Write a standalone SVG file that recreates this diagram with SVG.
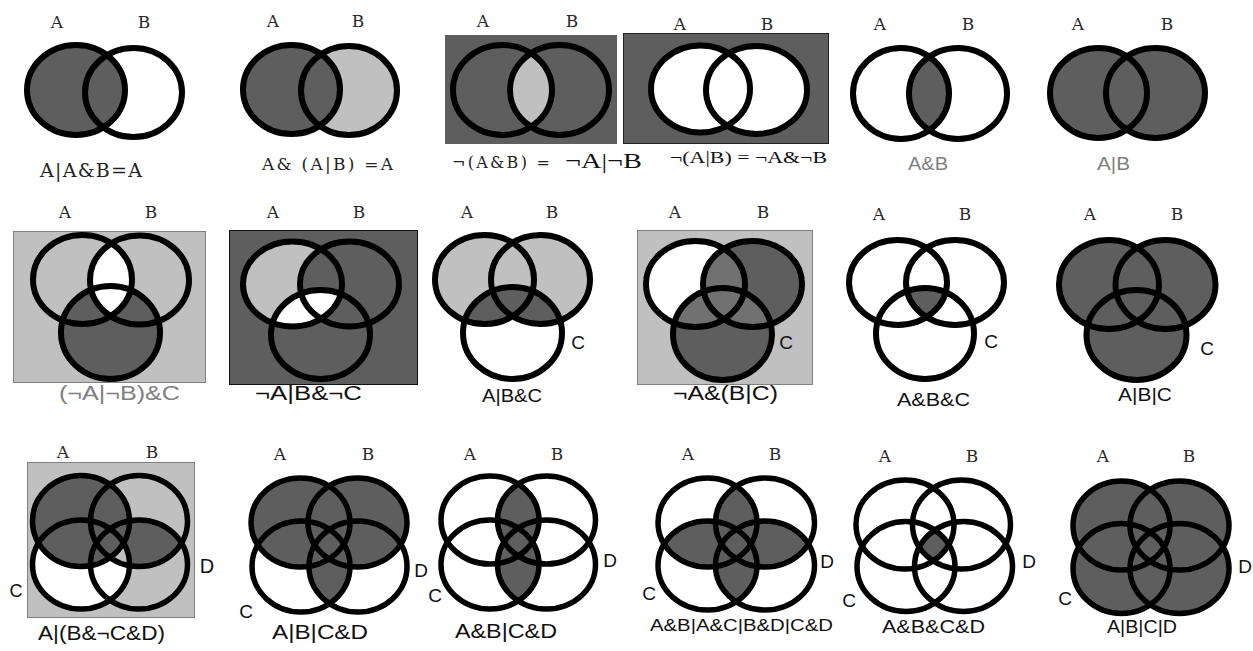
<svg xmlns="http://www.w3.org/2000/svg" width="1253" height="651" viewBox="0 0 1253 651">
<style>
.o{fill:none;stroke:#000;stroke-width:6}
.o3{fill:none;stroke:#000;stroke-width:5.5}
.d{fill:#5e5e5e}
.l{fill:#c0c0c0}
.w{fill:#fff}
.m{fill:#717171}
.bg{fill:#fff}
.lab{font-family:"DejaVu Serif","Liberation Serif",serif;font-size:17px;fill:#2a2a2a;text-anchor:middle}
.cd{font-family:"Liberation Sans",Arial,sans-serif;font-size:19px;fill:#111;text-anchor:middle}
.mono{font-family:"DejaVu Serif","Liberation Serif",serif;fill:#222}
.serif{font-family:"Liberation Serif",serif;fill:#111}
.sans{font-family:"Liberation Sans",Arial,sans-serif;fill:#111}
.gray{fill:#808080}
</style>
<defs>
<clipPath id="c3A"><ellipse cx="502.5" cy="90" rx="49.5" ry="45"/></clipPath>
<clipPath id="c5A"><ellipse cx="901" cy="93.5" rx="48" ry="45.5"/></clipPath>
<clipPath id="c7A"><ellipse cx="82.5" cy="279.5" rx="49.5" ry="44.5"/></clipPath>
<clipPath id="c8A"><ellipse cx="292.5" cy="284" rx="49.5" ry="42.5"/></clipPath>
<clipPath id="c9A"><ellipse cx="484.5" cy="279.5" rx="49.5" ry="44.5"/></clipPath>
<clipPath id="c9B"><ellipse cx="540.5" cy="279.5" rx="49.5" ry="44.5"/></clipPath>
<clipPath id="c10A"><ellipse cx="695.5" cy="284" rx="49.5" ry="43"/></clipPath>
<clipPath id="c10B"><ellipse cx="752.5" cy="284" rx="49.5" ry="43"/></clipPath>
<clipPath id="c11A"><ellipse cx="898" cy="282.5" rx="49" ry="42.5"/></clipPath>
<clipPath id="c11B"><ellipse cx="955" cy="282.5" rx="49" ry="42.5"/></clipPath>
<clipPath id="c13B"><ellipse cx="139" cy="521" rx="48.5" ry="45.5"/></clipPath>
<clipPath id="c14C"><ellipse cx="301" cy="566.5" rx="49" ry="45.5"/></clipPath>
<clipPath id="c15A"><ellipse cx="490" cy="520" rx="49" ry="44"/></clipPath>
<clipPath id="c15C"><ellipse cx="490" cy="564.5" rx="49" ry="44.5"/></clipPath>
<clipPath id="c16A"><ellipse cx="707.5" cy="522.5" rx="49.5" ry="44.5"/></clipPath>
<clipPath id="c16B"><ellipse cx="765" cy="522.5" rx="49.5" ry="44.5"/></clipPath>
<clipPath id="c16C"><ellipse cx="707.5" cy="565.5" rx="49.5" ry="44.5"/></clipPath>
<clipPath id="c17A"><ellipse cx="905" cy="524.5" rx="49" ry="44.5"/></clipPath>
<clipPath id="c17B"><ellipse cx="961.5" cy="524.5" rx="49" ry="44.5"/></clipPath>
<clipPath id="c17C"><ellipse cx="906" cy="566.5" rx="49" ry="45"/></clipPath>
</defs>
<rect class="bg" x="0" y="0" width="1253" height="651"/>

<!-- Row 1 -->
<g id="p1">
<ellipse class="d" cx="76" cy="90" rx="49" ry="45"/>
<ellipse class="o" cx="76" cy="90" rx="49" ry="45"/>
<ellipse class="o" cx="133.5" cy="92.5" rx="48.5" ry="44.5"/>
<text class="lab" x="57" y="28">A</text><text class="lab" x="144" y="28">B</text>
<text class="mono" x="40" y="177" font-size="19" textLength="102" lengthAdjust="spacing">A|A&amp;B=A</text>
</g>
<g id="p2">
<ellipse class="l" cx="349" cy="90.5" rx="48" ry="44.5"/>
<ellipse class="d" cx="291.5" cy="89.5" rx="48.5" ry="44.5"/>
<ellipse class="o" cx="291.5" cy="89.5" rx="48.5" ry="44.5"/>
<ellipse class="o" cx="349" cy="90.5" rx="48" ry="44.5"/>
<text class="lab" x="273" y="27">A</text><text class="lab" x="358" y="27">B</text>
<text class="mono" x="262" y="170" font-size="17" textLength="131" lengthAdjust="spacing">A&amp; (A|B) =A</text>
</g>
<g id="p3">
<rect class="d" x="445" y="35" width="172" height="109"/>
<ellipse class="l" cx="559.5" cy="90" rx="49.5" ry="45" clip-path="url(#c3A)"/>
<ellipse class="o" cx="502.5" cy="90" rx="49.5" ry="45"/>
<ellipse class="o" cx="559.5" cy="90" rx="49.5" ry="45"/>
<text class="lab" x="483" y="27">A</text><text class="lab" x="572" y="27">B</text>
<text y="168"><tspan class="mono" x="452" font-size="16" textLength="98" lengthAdjust="spacing">¬(A&amp;B) =</tspan><tspan class="serif" x="565" font-size="21" textLength="77" lengthAdjust="spacingAndGlyphs">¬A|¬B</tspan></text>
</g>
<g id="p4">
<rect class="d" x="623.5" y="33.5" width="205" height="110" stroke="#222" stroke-width="1"/>
<ellipse class="w" cx="700.5" cy="89" rx="49.5" ry="43.5"/>
<ellipse class="w" cx="756.5" cy="90" rx="50.5" ry="44"/>
<ellipse class="o" cx="700.5" cy="89" rx="49.5" ry="43.5"/>
<ellipse class="o" cx="756.5" cy="90" rx="50.5" ry="44"/>
<text class="lab" x="680" y="30">A</text><text class="lab" x="767" y="30">B</text>
<text class="serif" x="670" y="163" font-size="17" textLength="157" lengthAdjust="spacingAndGlyphs">¬(A|B) = ¬A&amp;¬B</text>
</g>
<g id="p5">
<ellipse class="d" cx="958" cy="93.5" rx="49" ry="45.5" clip-path="url(#c5A)"/>
<ellipse class="o" cx="901" cy="93.5" rx="48" ry="45.5"/>
<ellipse class="o" cx="958" cy="93.5" rx="49" ry="45.5"/>
<text class="lab" x="880" y="30">A</text><text class="lab" x="968" y="30">B</text>
<text class="sans gray" x="908" y="170" font-size="18" textLength="40" lengthAdjust="spacingAndGlyphs">A&amp;B</text>
</g>
<g id="p6">
<ellipse class="d" cx="1098.5" cy="93" rx="48.5" ry="45"/>
<ellipse class="d" cx="1155.5" cy="93" rx="49.5" ry="45"/>
<ellipse class="o" cx="1098.5" cy="93" rx="48.5" ry="45"/>
<ellipse class="o" cx="1155.5" cy="93" rx="49.5" ry="45"/>
<text class="lab" x="1078" y="30">A</text><text class="lab" x="1167" y="30">B</text>
<text class="sans gray" x="1097" y="170" font-size="18" textLength="33" lengthAdjust="spacingAndGlyphs">A|B</text>
</g>

<!-- Row 2 -->
<g id="p7">
<rect class="l" x="13.5" y="231.5" width="192" height="151" stroke="#808080" stroke-width="1"/>
<ellipse class="d" cx="110.5" cy="332.5" rx="49.5" ry="46.5"/>
<ellipse class="w" cx="139.5" cy="280" rx="49.5" ry="44.5" clip-path="url(#c7A)"/>
<ellipse class="o" cx="82.5" cy="279.5" rx="49.5" ry="44.5"/>
<ellipse class="o" cx="139.5" cy="280" rx="49.5" ry="44.5"/>
<ellipse class="o" cx="110.5" cy="332.5" rx="49.5" ry="46.5"/>
<text class="lab" x="65" y="218">A</text><text class="lab" x="151" y="218">B</text>
<text class="sans gray" x="59" y="400" font-size="20" textLength="121" lengthAdjust="spacingAndGlyphs">(¬A|¬B)&amp;C</text>
</g>
<g id="p8">
<rect class="d" x="229.5" y="230.5" width="188" height="154" stroke="#111" stroke-width="1"/>
<ellipse class="l" cx="292.5" cy="284" rx="49.5" ry="42.5"/>
<ellipse class="d" cx="349.5" cy="284" rx="49.5" ry="42.5" clip-path="url(#c8A)"/>
<ellipse class="w" cx="320.5" cy="334.5" rx="49.5" ry="44.5" clip-path="url(#c8A)"/>
<ellipse class="o" cx="292.5" cy="284" rx="49.5" ry="42.5"/>
<ellipse class="o" cx="349.5" cy="284" rx="49.5" ry="42.5"/>
<ellipse class="o" cx="320.5" cy="334.5" rx="49.5" ry="44.5"/>
<text class="lab" x="273" y="218">A</text><text class="lab" x="359" y="218">B</text>
<text class="sans" x="255" y="400" font-size="20" textLength="107" lengthAdjust="spacingAndGlyphs">¬A|B&amp;¬C</text>
</g>
<g id="p9">
<ellipse class="l" cx="484.5" cy="279.5" rx="49.5" ry="44.5"/>
<ellipse class="l" cx="540.5" cy="279.5" rx="49.5" ry="44.5"/>
<ellipse class="d" cx="512.5" cy="333" rx="49.5" ry="46" clip-path="url(#c9A)"/>
<ellipse class="d" cx="512.5" cy="333" rx="49.5" ry="46" clip-path="url(#c9B)"/>
<ellipse class="o" cx="484.5" cy="279.5" rx="49.5" ry="44.5"/>
<ellipse class="o" cx="540.5" cy="279.5" rx="49.5" ry="44.5"/>
<ellipse class="o" cx="512.5" cy="333" rx="49.5" ry="46"/>
<text class="lab" x="467" y="218">A</text><text class="lab" x="552" y="218">B</text>
<text class="cd" x="578" y="349">C</text>
<text class="sans" x="482" y="402" font-size="19" textLength="60" lengthAdjust="spacingAndGlyphs">A|B&amp;C</text>
</g>
<g id="p10">
<rect class="l" x="637.5" y="230.5" width="175" height="154" stroke="#808080" stroke-width="1"/>
<ellipse class="w" cx="695.5" cy="284" rx="49.5" ry="43"/>
<ellipse class="d" cx="752.5" cy="284" rx="49.5" ry="43"/>
<ellipse class="d" cx="722.5" cy="334" rx="49.5" ry="46"/>
<ellipse class="m" cx="752.5" cy="284" rx="49.5" ry="43" clip-path="url(#c10A)"/>
<ellipse class="m" cx="722.5" cy="334" rx="49.5" ry="46" clip-path="url(#c10A)"/>
<ellipse class="m" cx="722.5" cy="334" rx="49.5" ry="46" clip-path="url(#c10B)"/>
<ellipse class="o" cx="695.5" cy="284" rx="49.5" ry="43"/>
<ellipse class="o" cx="752.5" cy="284" rx="49.5" ry="43"/>
<ellipse class="o" cx="722.5" cy="334" rx="49.5" ry="46"/>
<text class="lab" x="675" y="218">A</text><text class="lab" x="763" y="218">B</text>
<text class="cd" x="786" y="349">C</text>
<text class="sans" x="673" y="400" font-size="20" textLength="105" lengthAdjust="spacingAndGlyphs">¬A&amp;(B|C)</text>
</g>
<g id="p11">
<g clip-path="url(#c11A)"><ellipse class="d" cx="925" cy="333.5" rx="49" ry="45.5" clip-path="url(#c11B)"/></g>
<ellipse class="o" cx="898" cy="282.5" rx="49" ry="42.5"/>
<ellipse class="o" cx="955" cy="282.5" rx="49" ry="42.5"/>
<ellipse class="o" cx="925" cy="333.5" rx="49" ry="45.5"/>
<text class="lab" x="879" y="220">A</text><text class="lab" x="965" y="220">B</text>
<text class="cd" x="991" y="348">C</text>
<text class="sans" x="897" y="406" font-size="19" textLength="73" lengthAdjust="spacingAndGlyphs">A&amp;B&amp;C</text>
</g>
<g id="p12">
<ellipse class="d" cx="1109" cy="284.5" rx="50" ry="44.5"/>
<ellipse class="d" cx="1165.5" cy="284.5" rx="50" ry="44.5"/>
<ellipse class="d" cx="1136.5" cy="335" rx="50" ry="45"/>
<ellipse class="o" cx="1109" cy="284.5" rx="50" ry="44.5"/>
<ellipse class="o" cx="1165.5" cy="284.5" rx="50" ry="44.5"/>
<ellipse class="o" cx="1136.5" cy="335" rx="50" ry="45"/>
<text class="lab" x="1090" y="220">A</text><text class="lab" x="1177" y="220">B</text>
<text class="cd" x="1207" y="355">C</text>
<text class="sans" x="1118" y="401" font-size="19" textLength="54" lengthAdjust="spacingAndGlyphs">A|B|C</text>
</g>

<!-- Row 3 -->
<g id="p13">
<rect class="l" x="27.5" y="462.5" width="167" height="155" stroke="#808080" stroke-width="1"/>
<ellipse class="d" cx="139" cy="564.5" rx="48.5" ry="44.5" clip-path="url(#c13B)"/>
<ellipse class="w" cx="81" cy="564.5" rx="48.5" ry="44.5"/>
<ellipse class="l" cx="81" cy="564.5" rx="48.5" ry="44.5" clip-path="url(#c13B)"/>
<ellipse class="d" cx="81" cy="521" rx="48.5" ry="45.5"/>
<ellipse class="o3" cx="81" cy="521" rx="48.5" ry="45.5"/>
<ellipse class="o3" cx="139" cy="521" rx="48.5" ry="45.5"/>
<ellipse class="o3" cx="81" cy="564.5" rx="48.5" ry="44.5"/>
<ellipse class="o3" cx="139" cy="564.5" rx="48.5" ry="44.5"/>
<text class="lab" x="63" y="458">A</text><text class="lab" x="152" y="458">B</text>
<text class="sans" x="16" y="597" font-size="18" text-anchor="middle">C</text>
<text class="sans" x="207" y="573" font-size="20" text-anchor="middle">D</text>
<text class="sans" x="38" y="640" font-size="21" textLength="127" lengthAdjust="spacingAndGlyphs">A|(B&amp;¬C&amp;D)</text>
</g>
<g id="p14">
<ellipse class="d" cx="300.5" cy="522.5" rx="49.5" ry="44.5"/>
<ellipse class="d" cx="357.5" cy="522.5" rx="49.5" ry="44.5"/>
<ellipse class="d" cx="358" cy="566.5" rx="49" ry="45.5" clip-path="url(#c14C)"/>
<ellipse class="o3" cx="300.5" cy="522.5" rx="49.5" ry="44.5"/>
<ellipse class="o3" cx="357.5" cy="522.5" rx="49.5" ry="44.5"/>
<ellipse class="o3" cx="301" cy="566.5" rx="49" ry="45.5"/>
<ellipse class="o3" cx="358" cy="566.5" rx="49" ry="45.5"/>
<text class="lab" x="280" y="460">A</text><text class="lab" x="368" y="460">B</text>
<text class="cd" x="246" y="618">C</text>
<text class="cd" x="421" y="577">D</text>
<text class="sans" x="272" y="639" font-size="21" textLength="96" lengthAdjust="spacingAndGlyphs">A|B|C&amp;D</text>
</g>
<g id="p15">
<ellipse class="d" cx="546.5" cy="520" rx="49" ry="44" clip-path="url(#c15A)"/>
<ellipse class="d" cx="546.5" cy="564.5" rx="49" ry="44.5" clip-path="url(#c15C)"/>
<ellipse class="o3" cx="490" cy="520" rx="49" ry="44"/>
<ellipse class="o3" cx="546.5" cy="520" rx="49" ry="44"/>
<ellipse class="o3" cx="490" cy="564.5" rx="49" ry="44.5"/>
<ellipse class="o3" cx="546.5" cy="564.5" rx="49" ry="44.5"/>
<text class="lab" x="470" y="460">A</text><text class="lab" x="557" y="460">B</text>
<text class="cd" x="435" y="602">C</text>
<text class="cd" x="610" y="567">D</text>
<text class="sans" x="455" y="638" font-size="21" textLength="102" lengthAdjust="spacingAndGlyphs">A&amp;B|C&amp;D</text>
</g>
<g id="p16">
<ellipse class="d" cx="765" cy="522.5" rx="49.5" ry="44.5" clip-path="url(#c16A)"/>
<ellipse class="d" cx="707.5" cy="565.5" rx="49.5" ry="44.5" clip-path="url(#c16A)"/>
<ellipse class="d" cx="765" cy="565.5" rx="49.5" ry="44.5" clip-path="url(#c16B)"/>
<ellipse class="d" cx="765" cy="565.5" rx="49.5" ry="44.5" clip-path="url(#c16C)"/>
<ellipse class="o3" cx="707.5" cy="522.5" rx="49.5" ry="44.5"/>
<ellipse class="o3" cx="765" cy="522.5" rx="49.5" ry="44.5"/>
<ellipse class="o3" cx="707.5" cy="565.5" rx="49.5" ry="44.5"/>
<ellipse class="o3" cx="765" cy="565.5" rx="49.5" ry="44.5"/>
<text class="lab" x="688" y="460">A</text><text class="lab" x="775" y="460">B</text>
<text class="cd" x="649" y="600">C</text>
<text class="cd" x="827" y="568">D</text>
<text class="sans" x="650" y="631" font-size="17" textLength="183" lengthAdjust="spacingAndGlyphs">A&amp;B|A&amp;C|B&amp;D|C&amp;D</text>
</g>
<g id="p17">
<g clip-path="url(#c17A)"><g clip-path="url(#c17B)"><ellipse class="d" cx="963.5" cy="566.5" rx="49" ry="45" clip-path="url(#c17C)"/></g></g>
<ellipse class="o3" cx="905" cy="524.5" rx="49" ry="44.5"/>
<ellipse class="o3" cx="961.5" cy="524.5" rx="49" ry="44.5"/>
<ellipse class="o3" cx="906" cy="566.5" rx="49" ry="45"/>
<ellipse class="o3" cx="963.5" cy="566.5" rx="49" ry="45"/>
<text class="lab" x="885" y="462">A</text><text class="lab" x="972" y="462">B</text>
<text class="cd" x="849" y="607">C</text>
<text class="cd" x="1029" y="568">D</text>
<text class="sans" x="882" y="633" font-size="19" textLength="103" lengthAdjust="spacingAndGlyphs">A&amp;B&amp;C&amp;D</text>
</g>
<g id="p18">
<ellipse class="d" cx="1121.5" cy="525.5" rx="48.5" ry="44.5"/>
<ellipse class="d" cx="1179.5" cy="525.5" rx="49.5" ry="44.5"/>
<ellipse class="d" cx="1121.5" cy="568.5" rx="48.5" ry="45"/>
<ellipse class="d" cx="1179.5" cy="568.5" rx="49.5" ry="45"/>
<ellipse class="o3" cx="1121.5" cy="525.5" rx="48.5" ry="44.5"/>
<ellipse class="o3" cx="1179.5" cy="525.5" rx="49.5" ry="44.5"/>
<ellipse class="o3" cx="1121.5" cy="568.5" rx="48.5" ry="45"/>
<ellipse class="o3" cx="1179.5" cy="568.5" rx="49.5" ry="45"/>
<text class="lab" x="1103" y="462">A</text><text class="lab" x="1189" y="462">B</text>
<text class="cd" x="1065" y="605">C</text>
<text class="cd" x="1245" y="573">D</text>
<text class="sans" x="1107" y="633" font-size="19" textLength="70" lengthAdjust="spacingAndGlyphs">A|B|C|D</text>
</g>
</svg>
